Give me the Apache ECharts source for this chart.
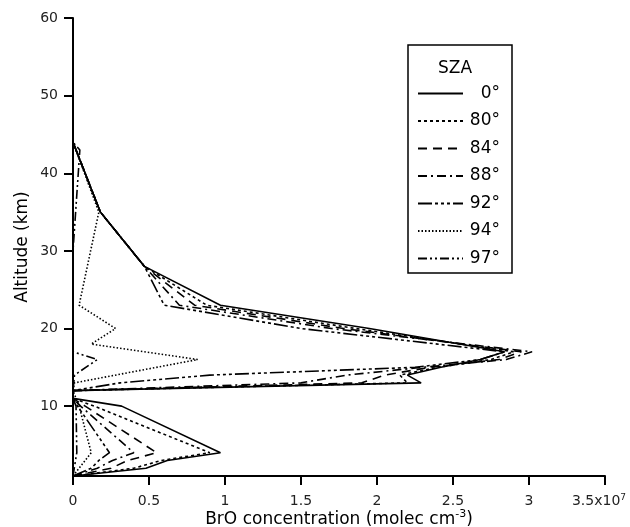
<!DOCTYPE html>
<html>
<head>
<meta charset="utf-8">
<script src="https://cdn.jsdelivr.net/npm/echarts@6/dist/echarts.min.js"></script>
<style>
  html, body { margin: 0; padding: 0; background: #fff; }
  #chart { width: 630px; height: 527px; }
</style>
</head>
<body>
<div id="chart"></div>
<script>
// BrO profiles, concentration in units of 1e7 molec cm^-3 vs altitude (km)
const szaNames = ["0°", "80°", "84°", "88°", "92°", "94°", "97°"];

const altMain = [1, 2, 3, 4, 10, 11, 12, 13, 14, 15, 16, 17, 20, 23, 28, 35, 44, 60];
const bro0  = [0, 0.48, 0.62, 0.97, 0.32, 0, 0, 2.29, 2.20, 2.42, 2.68, 2.84, 1.95, 0.97, 0.47, 0.18, 0, 0];
const bro80 = [0, 0.40, 0.58, 0.90, 0.14, 0, 0, 2.20, 2.15, 2.40, 2.75, 2.90, 1.86, 0.88, 0.47, 0.18, 0, 0];
const bro84 = [0, 0.25, 0.36, 0.55, 0.08, 0, 0, 1.90, 2.05, 2.35, 2.80, 2.95, 1.78, 0.80, 0.47, 0.18, 0, 0];
const bro88 = [0, 0.16, 0.26, 0.40, 0.05, 0, 0, 1.50, 1.80, 2.30, 2.85, 3.02, 1.70, 0.70, 0.47, 0.18, 0, 0];
const bro92 = [0, 0.12, 0.17, 0.24, 0.03, 0, 0, 0.31, 0.90, 2.25, 2.68, 2.84, 1.50, 0.60, 0.47, 0.18, 0, 0];

const alt94 = [1, 2, 3, 4, 10, 11, 12, 13, 16, 18, 20, 23, 35, 44, 60];
const bro94 = [0, 0.04, 0.08, 0.12, 0.04, 0.02, 0, 0.01, 0.82, 0.12, 0.28, 0.04, 0.17, 0, 0];

const alt97 = [1, 4, 10, 11, 12, 14, 16, 17, 30, 43, 44, 60];
const bro97 = [0, 0.025, 0.02, 0, 0, 0.01, 0.16, 0, 0, 0.045, 0, 0];

const yTicks = [10, 20, 30, 40, 50, 60];

const dashes = [
  "solid",
  [3, 3],
  [9, 6],
  [9, 4, 2, 4],
  [14, 3, 3, 3, 3, 3, 3, 3],
  [1.5, 2],
  [9, 3, 2, 3, 2, 3]
];

const profiles = [
  [altMain, bro0], [altMain, bro80], [altMain, bro84], [altMain, bro88],
  [altMain, bro92], [alt94, bro94], [alt97, bro97]
];

const font = "DejaVu Sans, sans-serif";
const chart = echarts.init(document.getElementById("chart"), null, { renderer: "canvas" });

chart.setOption({
  animation: false,
  backgroundColor: "#fff",
  title: {
    text: "SZA",
    left: 433,
    top: 55,
    textStyle: { fontFamily: font, fontSize: 17, fontWeight: "normal", color: "#000" }
  },
  legend: {
    orient: "vertical",
    left: 408,
    top: 45,
    padding: [40, 12, 6, 9],
    itemGap: 10.5,
    itemWidth: 45,
    itemHeight: 14,
    borderColor: "#000",
    borderWidth: 1.5,
    data: szaNames,
    itemStyle: { color: "rgba(0,0,0,0)", borderColor: "rgba(0,0,0,0)", borderWidth: 0 },
    formatter: (n) => "{r|" + n + "}",
    textStyle: {
      fontFamily: font,
      color: "#000",
      rich: { r: { width: 32, align: "right", fontSize: 17, fontFamily: font, color: "#000" } }
    }
  },
  grid: { left: 73, right: 25, top: 18, bottom: 51, containLabel: false, outerBoundsMode: "none" },
  xAxis: {
    type: "value",
    min: 0,
    max: 3.5,
    interval: 0.5,
    splitLine: { show: false },
    axisLine: { lineStyle: { color: "#000", width: 2 } },
    axisTick: { show: true, length: 9, lineStyle: { color: "#000", width: 2 } },
    axisLabel: {
      margin: 32,
      verticalAlign: "bottom",
      formatter: (v) => (v === 3.5 ? "{m|3.5x10}{s|7}" : "{m|" + v + "}"),
      rich: {
        m: { fontSize: 14, fontFamily: font, color: "#222", lineHeight: 15, verticalAlign: "bottom" },
        s: { fontSize: 9, fontFamily: font, color: "#222", verticalAlign: "top", lineHeight: 10, padding: [0, 12, 13, 0] }
      }
    },
    name: "BrO concentration (molec cm{s|-3})",
    nameLocation: "middle",
    nameGap: 33,
    nameMoveOverlap: false,
    nameTextStyle: {
      fontFamily: font,
      fontSize: 17,
      color: "#000",
      rich: { s: { fontSize: 11, fontFamily: font, color: "#000", verticalAlign: "top", padding: [0, 0, 10, 0] } }
    }
  },
  yAxis: {
    type: "value",
    min: 1,
    max: 60,
    splitLine: { show: false },
    axisLine: { lineStyle: { color: "#000", width: 2 } },
    axisTick: { show: true, length: 9, customValues: yTicks, lineStyle: { color: "#000", width: 2 } },
    axisLabel: { margin: 15, fontFamily: font, fontSize: 14, color: "#222", customValues: yTicks },
    name: "Altitude (km)",
    nameLocation: "middle",
    nameGap: 42,
    nameMoveOverlap: false,
    nameTextStyle: { fontFamily: font, fontSize: 17, color: "#000" }
  },
  series: profiles.map(([alt, bro], i) => ({
    name: szaNames[i],
    type: "line",
    symbol: "none",
    data: bro.map((v, k) => [v, alt[k]]),
    lineStyle: { color: "#000", width: 1.6, type: dashes[i] },
    itemStyle: { color: "#000" }
  }))
});
</script>
</body>
</html>
